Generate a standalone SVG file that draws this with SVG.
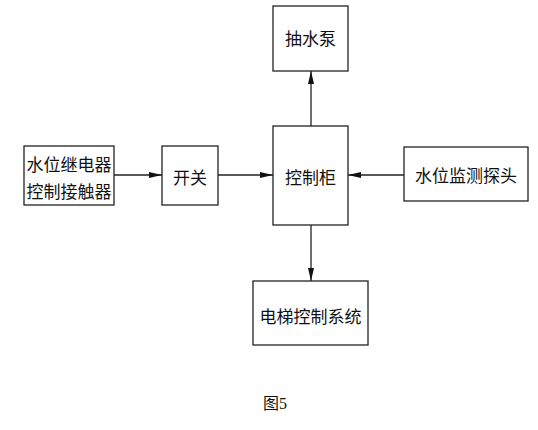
<svg xmlns="http://www.w3.org/2000/svg" width="538" height="430" viewBox="0 0 538 430">
<style>
.box{fill:#fff;stroke:#222;stroke-width:1.3}
.t{font-family:"Noto Sans CJK SC","Noto Sans",sans-serif;font-size:17px;fill:#111;text-anchor:middle;dominant-baseline:central}
.c{stroke:#222;stroke-width:1.3;fill:none;marker-end:url(#ah)}
</style>
<defs>
<marker id="ah" markerWidth="13" markerHeight="6" refX="13" refY="3" orient="auto" markerUnits="userSpaceOnUse">
<path d="M0,0 L13,3 L0,6 Z" fill="#111"/>
</marker>
</defs>
<rect width="538" height="430" fill="#fff"/>
<g id="connectors">
<path class="c" d="M114,175 H162"/>
<path class="c" d="M218,175 H273"/>
<path class="c" d="M404,175 H348"/>
<path class="c" d="M311,126 V71"/>
<path class="c" d="M311,225 V281"/>
</g>
<g id="pump"><rect class="box" x="273" y="6" width="75" height="65"/><text class="t" x="310.5" y="37">抽水泵</text></g>
<g id="cabinet"><rect class="box" x="273" y="126" width="75" height="99"/><text class="t" x="310.5" y="176">控制柜</text></g>
<g id="relay"><rect class="box" x="24" y="146" width="90" height="59"/><text class="t" x="69" y="163">水位继电器</text><text class="t" x="69" y="190">控制接触器</text></g>
<g id="switch"><rect class="box" x="162" y="146" width="56" height="59"/><text class="t" x="190" y="176">开关</text></g>
<g id="probe"><rect class="box" x="404" y="147" width="124" height="54"/><text class="t" x="466" y="174">水位监测探头</text></g>
<g id="elevator"><rect class="box" x="253" y="281" width="115" height="64"/><text class="t" x="310.5" y="315">电梯控制系统</text></g>
<text x="275" y="409" style="font-family:'Liberation Serif','Noto Sans CJK SC',serif;font-size:16px;fill:#111;text-anchor:middle">图5</text>
</svg>
